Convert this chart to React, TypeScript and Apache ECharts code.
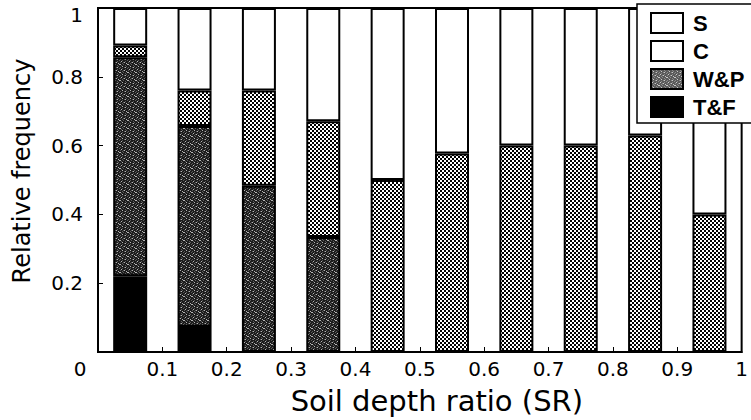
import React, { useEffect, useRef } from "react";
import * as echarts from "echarts";

// Bin centres of soil depth ratio (SR)
const binCenters = ["0.05", "0.15", "0.25", "0.35", "0.45", "0.55", "0.65", "0.75", "0.85", "0.95"];
// Relative frequency per class
const tfValues = [0.22, 0.073, 0, 0, 0, 0, 0, 0, 0, 0];
const wpValues = [0.637, 0.584, 0.483, 0.334, 0, 0, 0, 0, 0, 0];
const cValues = [0.034, 0.103, 0.277, 0.337, 0.5, 0.577, 0.6, 0.6, 0.629, 0.4];
const sValues = [0.109, 0.24, 0.24, 0.329, 0.5, 0.423, 0.4, 0.4, 0.371, 0.6];
const legendOrder = ["S", "C", "W&P", "T&F"];

const FONT = "DejaVu Sans";
const LFONT = "Liberation Sans";

function makeTile(rows: string[], palette: Record<string, string>) {
  const c = document.createElement("canvas");
  c.width = rows[0].length;
  c.height = rows.length;
  const ctx = c.getContext("2d")!;
  for (let y = 0; y < rows.length; y++) {
    for (let x = 0; x < rows[y].length; x++) {
      ctx.fillStyle = palette[rows[y][x]];
      ctx.fillRect(x, y, 1, 1);
    }
  }
  return c;
}

const MOTTLE = [
  "10020001",
  "02000200",
  "00100020",
  "20002100",
  "00200002",
  "01000200",
  "20021000",
  "00200010",
];

export default function App() {
  const ref = useRef<HTMLDivElement>(null);
  useEffect(() => {
    if (!ref.current) return;
    const chart = echarts.init(ref.current, null, { renderer: "svg" });
    const checker = makeTile(["1100", "1100", "0011", "0011"], { "1": "#ffffff", "0": "#000000" });
    const mottled = makeTile(MOTTLE, { "0": "#1c1c1c", "1": "#b4b4b4", "2": "#5c5c5c" });
    const mottledLight = makeTile(MOTTLE, { "0": "#5a5a5a", "1": "#c8c8c8", "2": "#8a8a8a" });
    const cPattern = { image: checker, repeat: "repeat" };
    const wpPattern = { image: mottled, repeat: "repeat" };
    const wpLegendPattern = { image: mottledLight, repeat: "repeat" };

    const mk = (name: string, values: number[], color: any) => ({
      name,
      type: "bar",
      stack: "sr",
      barWidth: 34,
      xAxisIndex: 0,
      data: values.map((v) => (v ? v : "-")),
      itemStyle: { color, borderColor: "#000", borderWidth: 2 },
    });

    const fmt = (v: number) => String(+v.toFixed(1));

    chart.setOption({
      animation: false,
      backgroundColor: "#fff",
      grid: {
        left: 98,
        top: 8,
        right: 0,
        bottom: 63,
        show: true,
        borderColor: "#000",
        borderWidth: 2,
        backgroundColor: "transparent",
      },
      legend: {
        data: [
          { name: "S" },
          { name: "C", itemStyle: { color: "#fff" } },
          { name: "W&P", itemStyle: { color: wpLegendPattern } },
          { name: "T&F" },
        ].filter((d) => legendOrder.includes(d.name)),
        orient: "vertical",
        left: 637,
        top: 4,
        padding: [8, 20, 5, 13],
        itemWidth: 32,
        itemHeight: 20,
        itemGap: 6,
        icon: "rect",
        backgroundColor: "#fff",
        borderColor: "#000",
        borderWidth: 1.5,
        formatter: "{a|{name}}",
        textStyle: {
          fontFamily: LFONT,
          fontSize: 22,
          fontWeight: "bold",
          color: "#000",
          rich: {
            a: {
              fontFamily: LFONT,
              fontSize: 22,
              fontWeight: "bold",
              color: "#000",
              padding: [0, 0, 0, 5],
            },
          },
        },
      },
      xAxis: [
        {
          type: "category",
          data: binCenters,
          boundaryGap: true,
          show: false,
          axisLine: { show: false },
          axisTick: { show: false },
          axisLabel: { show: false },
        },
        {
          type: "value",
          position: "bottom",
          min: 0,
          max: 1,
          interval: 0.1,
          name: "Soil depth ratio (SR)",
          nameLocation: "middle",
          nameGap: 34,
          nameTextStyle: { fontFamily: FONT, fontSize: 29, color: "#000", padding: [0, 0, 0, 34] },
          axisLine: { show: true, lineStyle: { color: "#000", width: 2 } },
          axisTick: { show: true, inside: true, length: 5, lineStyle: { color: "#000", width: 1 } },
          splitLine: { show: false },
          axisLabel: {
            showMinLabel: true,
            showMaxLabel: true,
            margin: 7,
            fontFamily: FONT,
            fontSize: 20,
            color: "#000",
            formatter: (v: number) => (v === 0 ? "{z|0}" : fmt(v)),
            rich: { z: { fontFamily: FONT, fontSize: 20, color: "#000", padding: [0, 36, 0, 0] } },
          },
        },
      ],
      yAxis: {
        type: "value",
        min: 0,
        max: 1,
        interval: 0.2,
        name: "Relative frequency",
        nameLocation: "middle",
        nameGap: 64,
        nameTextStyle: { fontFamily: FONT, fontSize: 24, color: "#000", padding: [0, 0, 0, 18] },
        axisLine: { show: true, lineStyle: { color: "#000", width: 2 } },
        axisTick: { show: true, inside: true, length: 5, lineStyle: { color: "#000", width: 1 } },
        splitLine: { show: false },
        axisLabel: {
          margin: 15,
          fontFamily: FONT,
          fontSize: 20,
          color: "#000",
          formatter: (v: number) => (v === 0 ? "" : v === 1 ? "{t|1}" : fmt(v)),
          rich: { t: { fontFamily: FONT, fontSize: 20, color: "#000", padding: [14, 0, 0, 0] } },
        },
      },
      series: [
        mk("T&F", tfValues, "#000"),
        mk("W&P", wpValues, wpPattern),
        mk("C", cValues, cPattern),
        mk("S", sValues, "#fff"),
      ],
    });
    return () => chart.dispose();
  }, []);
  return (
    <div
      ref={ref}
      style={{ position: "fixed", left: 0, top: 0, width: 751, height: 420, background: "#fff" }}
    />
  );
}
